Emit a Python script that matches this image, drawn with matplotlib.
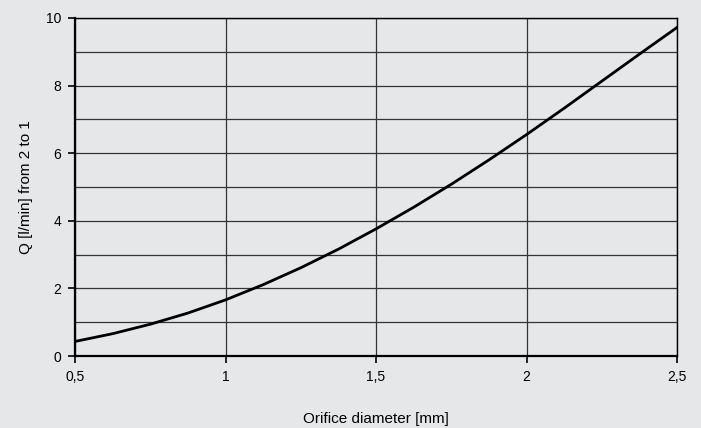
import numpy as np
import matplotlib.pyplot as plt
from matplotlib.ticker import FixedLocator, FuncFormatter

plt.rcParams["font.family"] = ["Liberation Sans", "DejaVu Sans"]

# values, every 0.125 mm
diameter = [0.5, 0.625, 0.75, 0.875, 1.0, 1.125, 1.25, 1.375, 1.5,
            1.625, 1.75, 1.875, 2.0, 2.125, 2.25, 2.375, 2.5]
flow = [0.43, 0.66, 0.94, 1.27, 1.66, 2.11, 2.61, 3.16, 3.76,
        4.40, 5.08, 5.80, 6.55, 7.33, 8.13, 8.93, 9.72]

bg = "#e6e7e9"
fig = plt.figure(figsize=(7.01, 4.28), dpi=100, facecolor=bg)
ax = fig.add_axes([75 / 701, 1 - 356 / 428, (677 - 75) / 701, (356 - 18) / 428])
ax.set_facecolor(bg)

ax.plot(diameter, flow, color="black", lw=2, solid_joinstyle="round", zorder=3)

ax.set_xlim(0.5, 2.5)
ax.set_ylim(0, 10)
ax.xaxis.set_major_locator(FixedLocator([0.5, 1, 1.5, 2, 2.5]))
ax.yaxis.set_major_locator(FixedLocator([0, 2, 4, 6, 8, 10]))
ax.yaxis.set_minor_locator(FixedLocator([1, 3, 5, 7, 9]))
ax.xaxis.set_major_formatter(FuncFormatter(lambda v, p: f"{v:g}".replace(".", ",")))
ax.grid(which="both", axis="y", color="#333333", lw=0.9)
ax.grid(which="major", axis="x", color="#333333", lw=0.9)
ax.tick_params(which="major", direction="out", length=5, width=1.2, color="black",
               labelsize=10, pad=5)
ax.tick_params(which="minor", length=0)

for s in ["left", "bottom"]:
    ax.spines[s].set_linewidth(1.6)
for s in ["top", "right"]:
    ax.spines[s].set_linewidth(1.0)

ax.set_xlabel("Orifice diameter [mm]", fontsize=11, labelpad=20)
ax.set_ylabel("Q [l/min] from 2 to 1", fontsize=11, labelpad=9)

fig.savefig("out.png", dpi=100, facecolor=bg)
